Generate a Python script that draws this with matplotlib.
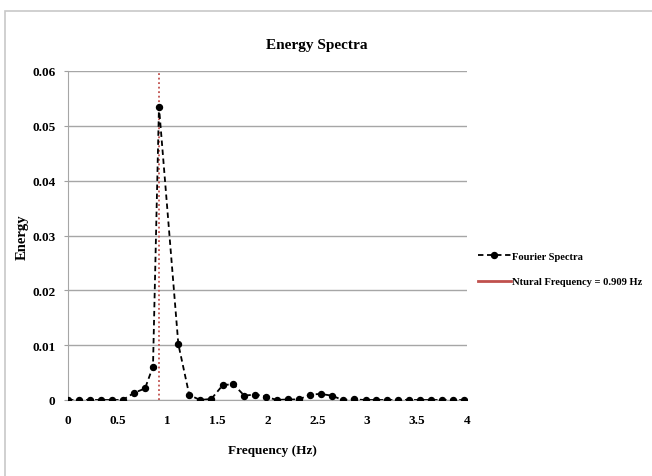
import matplotlib.pyplot as plt
from matplotlib.lines import Line2D
from matplotlib.patches import Rectangle

# Fourier spectrum
freq = [0.0, 0.110, 0.218, 0.328, 0.438, 0.548, 0.662, 0.772, 0.852, 0.912,
        1.106, 1.216, 1.326, 1.437, 1.551, 1.657, 1.767, 1.878, 1.988, 2.092,
        2.203, 2.316, 2.426, 2.533, 2.644, 2.754, 2.867, 2.984, 3.091, 3.201,
        3.311, 3.421, 3.532, 3.642, 3.752, 3.863, 3.970]
energy = [0.0, 0.0, 0.0, 0.0, 0.0, 0.0, 0.0013, 0.0021, 0.0061, 0.0535,
          0.0102, 0.0009, 0.0, 0.0002, 0.0027, 0.0029, 0.0008, 0.0010, 0.0006, 0.0,
          0.0001, 0.0001, 0.0010, 0.0011, 0.0008, 0.0, 0.0001, 0.0, 0.0, 0.0,
          0.0, 0.0, 0.0, 0.0, 0.0, 0.0, 0.0]
natural_freq = 0.909

x_ticks = [0, 0.5, 1, 1.5, 2, 2.5, 3, 3.5, 4]
x_tick_labels = ['0', '0.5', '1', '1.5', '2', '2.5', '3', '3.5', '4']
y_ticks = [0, 0.01, 0.02, 0.03, 0.04, 0.05, 0.06]
y_tick_labels = ['0', '0.01', '0.02', '0.03', '0.04', '0.05', '0.06']

plt.rcParams['font.family'] = ['Liberation Serif', 'DejaVu Serif']
plt.rcParams['font.weight'] = 'bold'

fig = plt.figure(figsize=(6.52, 4.77), dpi=100)
fig.set_facecolor('#ffffff')

# chart area border (cropped on right and bottom)
fig.patches.append(Rectangle((5 / 652, -0.1), 1.2, 1 - 12 / 477 + 0.1,
                             transform=fig.transFigure, fill=False,
                             edgecolor='#c8c8c8', linewidth=1.2))

ax = fig.add_axes([68 / 652, 1 - 401 / 477, (467 - 68) / 652, (401 - 72) / 477])

red = '#c0504d'
ax.axvline(natural_freq, color=red, linestyle=(0, (1, 1.5)), linewidth=1.3, zorder=2)
ax.plot(freq, energy, color='black', linestyle=(0, (3, 2)), linewidth=1.3,
        marker='o', markersize=4.3, zorder=3)

ax.set_xlim(0, 4)
ax.set_ylim(0, 0.06)
ax.set_xticks(x_ticks)
ax.set_xticklabels(x_tick_labels)
ax.set_yticks(y_ticks)
ax.set_yticklabels(y_tick_labels)
ax.tick_params(axis='both', labelsize=9.5, length=0, pad=10)
ax.tick_params(axis='y', length=3, color='#a0a0a0', pad=6)

ax.yaxis.grid(True, color='#a6a6a6', linewidth=1.0)
ax.set_axisbelow(True)
for s in ['top', 'right']:
    ax.spines[s].set_visible(False)
ax.spines['left'].set_color('#a6a6a6')
ax.spines['bottom'].set_color('#a6a6a6')

fig.text(317 / 652, 1 - 45 / 477, 'Energy Spectra', ha='center', va='center',
         fontsize=11, fontweight='bold')
fig.text(272 / 652, 1 - 451 / 477, 'Frequency (Hz)', ha='center', va='center',
         fontsize=9.5, fontweight='bold')
fig.text(22 / 652, 1 - 237 / 477, 'Energy', ha='center', va='center',
         rotation=90, fontsize=10.5, fontweight='bold')

handles = [
    Line2D([], [], color='black', linestyle=(0, (3, 2)), linewidth=1.3,
           marker='o', markersize=4.3),
    Line2D([], [], color=red, linewidth=2),
]
labels = ['Fourier Spectra', 'Ntural Frequency = 0.909 Hz']
fig.legend(handles, labels, loc='center left', bbox_to_anchor=(468 / 652, 1 - 270 / 477),
           frameon=False, handlelength=3.2, handletextpad=0.1,
           labelspacing=1.5, prop={'weight': 'bold', 'size': 7.6})

fig.savefig('out.png', dpi=100, facecolor='#ffffff')
